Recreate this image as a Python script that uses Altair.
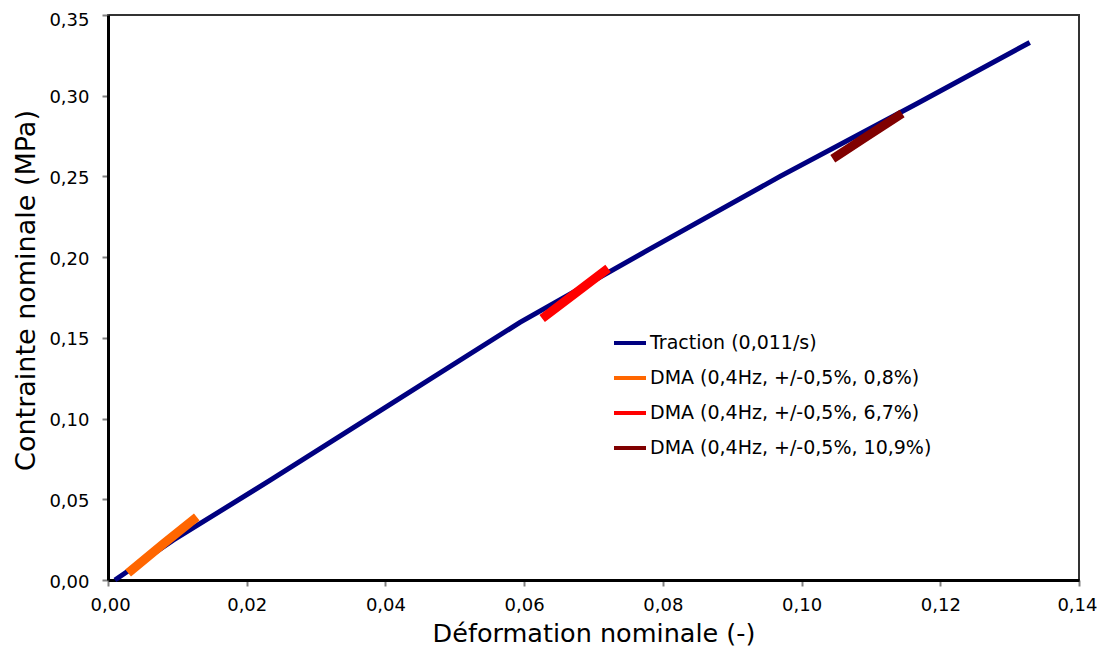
import altair as alt
import pandas as pd

# Series values
trac_x = [0.001, 0.0094, 0.0234, 0.040, 0.0594, 0.0777, 0.0969, 0.1166, 0.1329]
trac_y = [0.000, 0.0247, 0.0618, 0.107, 0.1596, 0.204, 0.250, 0.295, 0.333]

dma1_x = [0.0029, 0.0080, 0.0128]
dma1_y = [0.0043, 0.0225, 0.0390]
dma2_x = [0.0626, 0.0675, 0.0721]
dma2_y = [0.162, 0.178, 0.193]
dma3_x = [0.1045, 0.1095, 0.1145]
dma3_y = [0.261, 0.275, 0.289]

names = ["Traction (0,011/s)",
         "DMA (0,4Hz, +/-0,5%, 0,8%)",
         "DMA (0,4Hz, +/-0,5%, 6,7%)",
         "DMA (0,4Hz, +/-0,5%, 10,9%)"]
colors = ["#000080", "#FF6600", "#FF0000", "#800000"]

x_ticks = [0.00, 0.02, 0.04, 0.06, 0.08, 0.10, 0.12, 0.14]
y_ticks = [0.00, 0.05, 0.10, 0.15, 0.20, 0.25, 0.30, 0.35]

rows = []
for name, xs, ys in zip(names, [trac_x, dma1_x, dma2_x, dma3_x], [trac_y, dma1_y, dma2_y, dma3_y]):
    for i, (a, b) in enumerate(zip(xs, ys)):
        rows.append({"serie": name, "x": a, "y": b, "o": i})
df = pd.DataFrame(rows)

FONT = "DejaVu Sans"
lab = "replace(format(datum.value, '.2f'), '.', ',')"

W, H = 971, 565

color = alt.Color("serie:N", scale=alt.Scale(domain=names, range=colors),
                  sort=names,
                  legend=alt.Legend(title=None, orient="none", legendX=504, legendY=310,
                                    symbolType="stroke", symbolSize=1024, symbolStrokeWidth=4,
                                    labelFont=FONT, labelFontSize=19, labelColor="black",
                                    labelOffset=2, rowPadding=7, padding=0,
                                    labelLimit=400))

xenc = alt.X("x:Q", scale=alt.Scale(domain=[0, 0.14], nice=False, zero=False),
             axis=alt.Axis(values=x_ticks, labelExpr=lab, title="Déformation nominale (-)",
                           grid=False, domainColor="black", domainWidth=3,
                           tickColor="#808080", tickWidth=2, tickSize=6,
                           labelFlush=True, labelFlushOffset=18,
                           labelFont=FONT, labelFontSize=18, labelColor="black", labelPadding=10,
                           titleFont=FONT, titleFontSize=25.5, titleFontWeight="normal",
                           titleColor="black", titleX=W / 2, titleY=61,
                           titleBaseline="alphabetic", titleAlign="center"))
yenc = alt.Y("y:Q", scale=alt.Scale(domain=[0, 0.35], nice=False, zero=False),
             axis=alt.Axis(values=y_ticks, labelExpr=lab, title="Contrainte nominale (MPa)",
                           grid=False, domainColor="black", domainWidth=3,
                           tickColor="#808080", tickWidth=2, tickSize=6, labelFlush=False,
                           labelOffset={"condition": {"test": "datum.value >= 0.349", "value": 5},
                                        "value": 2},
                           labelFont=FONT, labelFontSize=18, labelColor="black", labelPadding=13,
                           titleFont=FONT, titleFontSize=27, titleFontWeight="normal",
                           titleColor="black", titleX=-82, titleY=275, titleAngle=270,
                           titleBaseline="middle", titleAlign="center"))

base = alt.Chart(df)
trac = base.transform_filter(alt.datum.serie == names[0]).mark_line(strokeWidth=5).encode(
    x=xenc, y=yenc, color=color, detail="serie:N", order="o:Q")
dma = base.transform_filter(alt.datum.serie != names[0]).mark_line(strokeWidth=9).encode(
    x=xenc, y=yenc, color=color, detail="serie:N", order="o:Q")

chart = alt.layer(trac, dma).properties(
    width=W, height=H,
    autosize=alt.AutoSizeParams(type="none"),
    padding={"left": 100, "top": 7, "right": 18, "bottom": 75},
).configure_view(stroke="#333333", strokeWidth=2)

chart.save("out.html", embed_options={"renderer": "svg", "actions": False})
